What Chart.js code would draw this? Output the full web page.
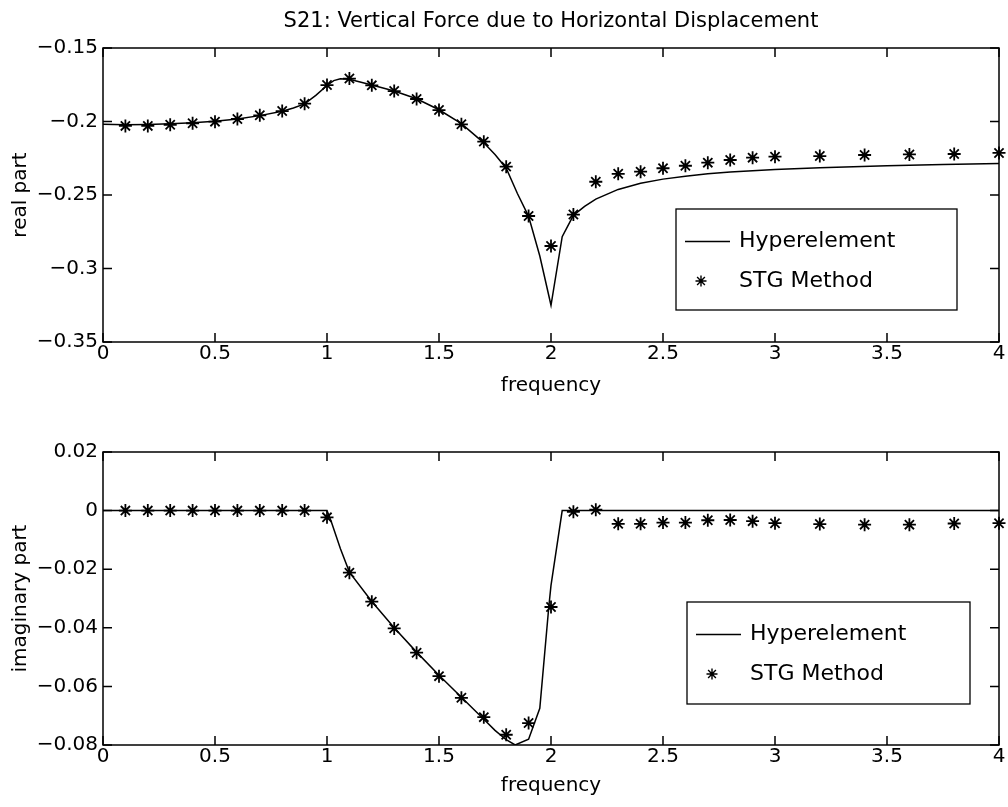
<html>
  <head>
    <script src="https://cdn.jsdelivr.net/npm/chart.js"></script>
    <meta charset="UTF-8" />
    <style>
      body { margin: 0; background: #fff; }
      .panel { position: absolute; left: 0; }
    </style>
  </head>
  <body>
    <div class="panel" style="top: 0"><canvas id="realChart" width="1008" height="400"></canvas></div>
    <div class="panel" style="top: 400px"><canvas id="imagChart" width="1008" height="407"></canvas></div>
    <script>
      // STG method samples (asterisks)
      const stgFreq = [
        0.1, 0.2, 0.3, 0.4, 0.5, 0.6, 0.7, 0.8, 0.9, 1.0,
        1.1, 1.2, 1.3, 1.4, 1.5, 1.6, 1.7, 1.8, 1.9, 2.0,
        2.1, 2.2, 2.3, 2.4, 2.5, 2.6, 2.7, 2.8, 2.9, 3.0,
        3.2, 3.4, 3.6, 3.8, 4.0,
      ];
      const stgReal = [
        -0.203, -0.203, -0.2022, -0.2012, -0.2001, -0.1983, -0.1958, -0.1929, -0.1879, -0.1752,
        -0.1708, -0.1754, -0.1793, -0.1847, -0.1922, -0.2019, -0.2137, -0.2307, -0.2643, -0.2847,
        -0.2633, -0.241, -0.2356, -0.2341, -0.2318, -0.2301, -0.228, -0.2262, -0.2246, -0.2239,
        -0.2235, -0.2228, -0.2224, -0.2221, -0.2214,
      ];
      const stgImag = [
        0, 0, 0, 0, 0, 0, 0, 0, 0, -0.0023,
        -0.0212, -0.0311, -0.0402, -0.0485, -0.0565, -0.0639, -0.0705, -0.0765, -0.0725, -0.0329,
        -0.0004, 0.0003, -0.0045, -0.0045, -0.0041, -0.0041, -0.0033, -0.0032, -0.0036, -0.0043,
        -0.0046, -0.0048, -0.0048, -0.0044, -0.0043,
      ];

      // Hyperelement curves (solid line)
      const hyperRealFreq = [
        0, 0.1, 0.2, 0.3, 0.4, 0.5, 0.6, 0.7, 0.8, 0.85, 0.9, 0.95, 1.0, 1.03, 1.06, 1.1,
        1.2, 1.3, 1.4, 1.5, 1.6, 1.7, 1.75, 1.8, 1.85, 1.9, 1.95, 2.0, 2.05, 2.1, 2.15, 2.2,
        2.3, 2.4, 2.5, 2.6, 2.7, 2.8, 3.0, 3.2, 3.5, 3.75, 4.0,
      ];
      const hyperReal = [
        -0.2018, -0.2022, -0.202, -0.2015, -0.2008, -0.1998, -0.1983, -0.196, -0.193, -0.1908, -0.188, -0.1822, -0.1755, -0.1722, -0.171, -0.1713,
        -0.1752, -0.1792, -0.1845, -0.192, -0.2015, -0.2145, -0.2225, -0.2318, -0.249, -0.2645, -0.2915, -0.325, -0.2784, -0.2638, -0.2578, -0.2528,
        -0.2462, -0.242, -0.2392, -0.2372, -0.2356, -0.2344, -0.2327, -0.2314, -0.2301, -0.2293, -0.2285,
      ];
      const hyperImagFreq = [
        0, 1.0, 1.02, 1.06, 1.1, 1.2, 1.3, 1.4, 1.5, 1.6, 1.7, 1.75, 1.8, 1.84, 1.9, 1.95, 1.99, 2.0, 2.05, 4.0,
      ];
      const hyperImag = [
        0, 0, -0.004, -0.013, -0.021, -0.031, -0.04, -0.0483, -0.0562, -0.0637, -0.0712, -0.075, -0.0782, -0.08, -0.078, -0.0675, -0.033, -0.0255, 0, 0,
      ];

      const legendLabels = ["Hyperelement", "STG Method"];

      Chart.defaults.font.family = "'DejaVu Sans', sans-serif";
      Chart.defaults.font.size = 20;
      Chart.defaults.color = "#000";

      function fmt(v) {
        return String(Math.round(v * 1e6) / 1e6).replace("-", "\u2212");
      }

      function pairs(xs, ys) {
        return xs.map((x, i) => ({ x: x, y: ys[i] }));
      }

      // star marker as drawn by MATLAB '*'
      function star(ctx, x, y, r) {
        ctx.beginPath();
        for (let k = 0; k < 4; k++) {
          const a = (k * Math.PI) / 4;
          ctx.moveTo(x - r * Math.cos(a), y - r * Math.sin(a));
          ctx.lineTo(x + r * Math.cos(a), y + r * Math.sin(a));
        }
        ctx.stroke();
      }

      // box + inward ticks on all four sides
      const matlabAxes = {
        id: "matlabAxes",
        afterDatasetsDraw(chart) {
          const { ctx, chartArea: a, scales } = chart;
          ctx.save();
          ctx.strokeStyle = "#000";
          ctx.lineWidth = 1.5;
          ctx.strokeRect(a.left, a.top, a.right - a.left, a.bottom - a.top);
          ctx.beginPath();
          scales.x.ticks.forEach(t => {
            const px = scales.x.getPixelForValue(t.value);
            ctx.moveTo(px, a.bottom); ctx.lineTo(px, a.bottom - 9);
            ctx.moveTo(px, a.top); ctx.lineTo(px, a.top + 9);
          });
          scales.y.ticks.forEach(t => {
            const py = scales.y.getPixelForValue(t.value);
            ctx.moveTo(a.left, py); ctx.lineTo(a.left + 9, py);
            ctx.moveTo(a.right, py); ctx.lineTo(a.right - 9, py);
          });
          ctx.stroke();
          ctx.restore();
        },
      };

      const figTitle = {
        id: "figTitle",
        afterDraw(chart, args, opts) {
          if (!opts.text) return;
          const { ctx, chartArea: a } = chart;
          ctx.save();
          ctx.font = "21px 'DejaVu Sans', sans-serif";
          ctx.fillStyle = "#000";
          ctx.textAlign = "center";
          ctx.textBaseline = "middle";
          ctx.fillText(opts.text, (a.left + a.right) / 2, opts.y);
          ctx.restore();
        },
      };

      const boxLegend = {
        id: "boxLegend",
        afterDraw(chart, args, o) {
          const ctx = chart.ctx;
          ctx.save();
          ctx.fillStyle = "#fff";
          ctx.fillRect(o.left, o.top, o.width, o.height);
          ctx.strokeStyle = "#000";
          ctx.lineWidth = 1.3;
          ctx.strokeRect(o.left, o.top, o.width, o.height);
          const y1 = o.top + 32.5, y2 = o.top + 72;
          ctx.lineWidth = 1.4;
          ctx.beginPath();
          ctx.moveTo(o.left + 9, y1);
          ctx.lineTo(o.left + 54, y1);
          ctx.stroke();
          star(ctx, o.left + 25, y2, 5.5);
          ctx.fillStyle = "#000";
          ctx.font = "22px 'DejaVu Sans', sans-serif";
          ctx.textBaseline = "middle";
          ctx.fillText(legendLabels[0], o.left + 63, y1);
          ctx.fillText(legendLabels[1], o.left + 63, y2);
          ctx.restore();
        },
      };

      function makeChart(id, opts) {
        return new Chart(document.getElementById(id), {
          type: "scatter",
          data: {
            datasets: [
              {
                label: legendLabels[0],
                data: pairs(opts.lineFreq, opts.lineVals),
                showLine: true,
                borderColor: "#000",
                borderWidth: 1.5,
                pointRadius: 0,
                tension: 0,
              },
              {
                label: legendLabels[1],
                data: pairs(stgFreq, opts.stgVals),
                showLine: false,
                pointStyle: "star",
                pointRadius: 6.5,
                borderColor: "#000",
                backgroundColor: "#000",
                pointBorderWidth: 1.8,
                clip: false,
              },
            ],
          },
          options: {
            responsive: false,
            animation: false,
            events: [],
            layout: { padding: { left: 0, top: opts.padTop, right: 9, bottom: 0 } },
            scales: {
              x: {
                type: "linear",
                min: 0,
                max: 4,
                afterFit: s => { s.height = opts.xHeight; },
                grid: { display: false, drawTicks: false },
                border: { display: false },
                ticks: { stepSize: 0.5, padding: 0, callback: v => fmt(v) },
                title: {
                  display: true,
                  text: "frequency",
                  font: { size: 20 },
                  padding: { top: 0, bottom: opts.xTitlePad },
                },
              },
              y: {
                min: opts.yMin,
                max: opts.yMax,
                afterFit: s => { s.width = 103; },
                grid: { display: false, drawTicks: false },
                border: { display: false },
                ticks: { stepSize: opts.yStep, padding: 5, callback: v => fmt(v) },
                title: {
                  display: true,
                  text: opts.yTitle,
                  font: { size: 20 },
                  padding: { top: 9, bottom: 0 },
                },
              },
            },
            plugins: {
              legend: { display: false },
              tooltip: { enabled: false },
              figTitle: { text: opts.title, y: 22 },
              boxLegend: opts.legendBox,
            },
          },
          plugins: [matlabAxes, figTitle, boxLegend],
        });
      }

      makeChart("realChart", {
        lineFreq: hyperRealFreq,
        lineVals: hyperReal,
        stgVals: stgReal,
        yMin: -0.35,
        yMax: -0.15,
        yStep: 0.05,
        yTitle: "real part",
        title: "S21: Vertical Force due to Horizontal Displacement",
        padTop: 48,
        xHeight: 58,
        xTitlePad: 2,
        legendBox: { left: 676, top: 209, width: 281, height: 101 },
      });

      makeChart("imagChart", {
        lineFreq: hyperImagFreq,
        lineVals: hyperImag,
        stgVals: stgImag,
        yMin: -0.08,
        yMax: 0.02,
        yStep: 0.02,
        yTitle: "imaginary part",
        title: "",
        padTop: 52,
        xHeight: 62,
        xTitlePad: 9,
        legendBox: { left: 687, top: 202, width: 283, height: 102 },
      });
    </script>
  </body>
</html>
